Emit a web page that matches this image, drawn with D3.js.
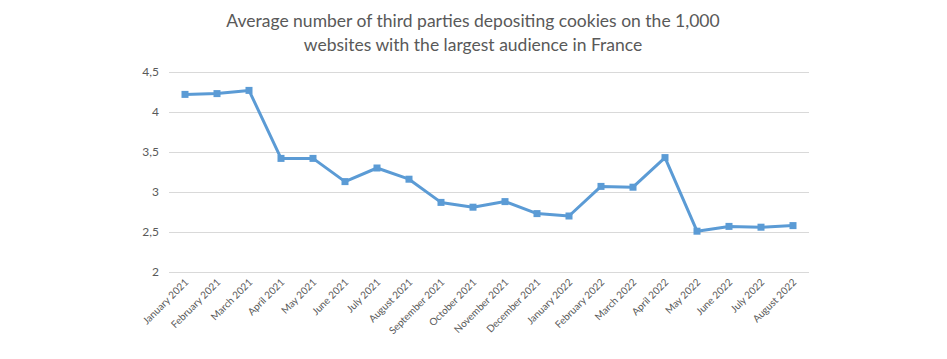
<!DOCTYPE html>
<html>
<head>
<meta charset="utf-8">
<script src="https://cdn.jsdelivr.net/npm/d3@7"></script>
<style>
  body { margin: 0; background: #fff; }
  text { font-family: Lato, "Open Sans", sans-serif; fill: #595959; }
</style>
</head>
<body>
<div id="chart"></div>
<script>
// Chart size and plot area
const w = 947;
const h = 359;
const margin = { top: 72, right: 138, bottom: 87, left: 169 };

const titleLines = [
  "Average number of third parties depositing cookies on the 1,000",
  "websites with the largest audience in France"
];

const months = [
  "January 2021", "February 2021", "March 2021", "April 2021", "May 2021",
  "June 2021", "July 2021", "August 2021", "September 2021", "October 2021",
  "November 2021", "December 2021", "January 2022", "February 2022", "March 2022",
  "April 2022", "May 2022", "June 2022", "July 2022", "August 2022"
];

const values = [
  4.22, 4.23, 4.27, 3.42, 3.42,
  3.13, 3.30, 3.16, 2.87, 2.81,
  2.88, 2.73, 2.70, 3.07, 3.06,
  3.43, 2.51, 2.57, 2.56, 2.58
];

const yTicks = [2, 2.5, 3, 3.5, 4, 4.5];

const data = months.map((m, i) => ({ month: m, value: values[i] }));

const svg = d3.select("#chart").append("svg")
  .attr("width", w)
  .attr("height", h);

const xScale = d3.scaleBand()
  .domain(months)
  .range([margin.left, w - margin.right]);

const yScale = d3.scaleLinear()
  .domain([2, 4.5])
  .range([h - margin.bottom, margin.top]);

// title
svg.append("text")
  .attr("x", 473)
  .attr("y", 27)
  .attr("text-anchor", "middle")
  .style("font-size", "17.5px")
  .selectAll("tspan")
  .data(titleLines)
  .enter()
  .append("tspan")
  .attr("x", 473)
  .attr("dy", (d, i) => i === 0 ? 0 : 24)
  .text(d => d);

// gridlines + y labels
const yAxis = d3.axisLeft(yScale)
  .tickValues(yTicks)
  .tickSize(-(w - margin.left - margin.right))
  .tickPadding(10)
  .tickFormat(d => String(d).replace(".", ","));

svg.append("g")
  .attr("transform", `translate(${margin.left},0)`)
  .call(yAxis)
  .call(g => g.select(".domain").remove())
  .call(g => g.selectAll("line").attr("stroke", "#d9d9d9"))
  .call(g => g.selectAll("text").style("font-size", "12px").style("fill", "#595959"));

// x labels
const xAxis = d3.axisBottom(xScale).tickSize(0).tickPadding(0);

svg.append("g")
  .attr("transform", `translate(0,${h - margin.bottom})`)
  .call(xAxis)
  .call(g => g.select(".domain").remove())
  .selectAll("text")
  .attr("dy", null)
  .attr("y", 0)
  .attr("transform", "translate(4,11)rotate(-45)")
  .style("text-anchor", "end")
  .style("font-size", "10px")
  .style("fill", "#595959");

const cx = d => xScale(d.month) + xScale.bandwidth() / 2;

const line = d3.line()
  .x(cx)
  .y(d => yScale(d.value));

svg.append("path")
  .datum(data)
  .attr("fill", "none")
  .attr("stroke", "#5b9bd5")
  .attr("stroke-width", 3)
  .attr("stroke-linejoin", "round")
  .attr("d", line);

const s = 7;
svg.selectAll("rect.marker")
  .data(data)
  .enter()
  .append("rect")
  .attr("class", "marker")
  .attr("x", d => cx(d) - s / 2)
  .attr("y", d => yScale(d.value) - s / 2)
  .attr("width", s)
  .attr("height", s)
  .attr("fill", "#5b9bd5");
</script>
</body>
</html>
